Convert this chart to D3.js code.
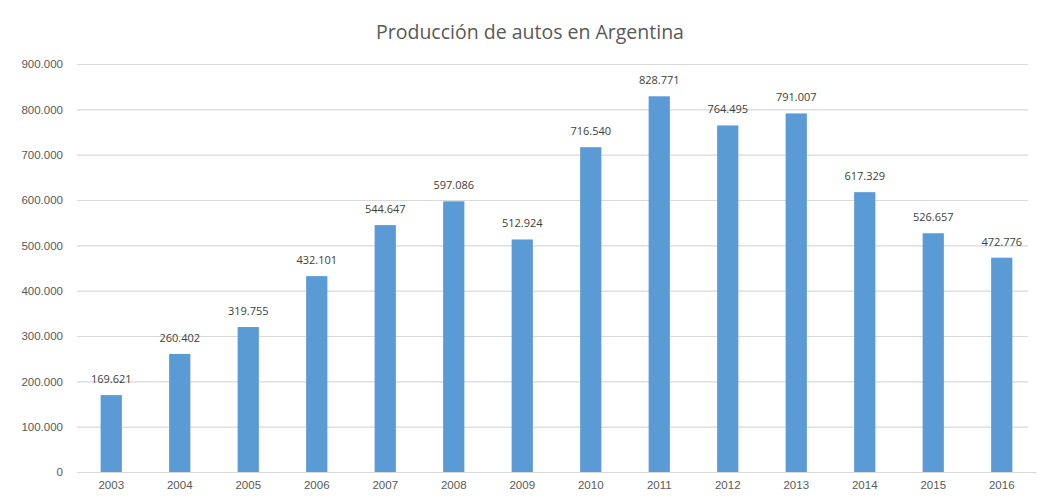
<!DOCTYPE html>
<html>
<head>
<meta charset="utf-8">
<script src="https://cdn.jsdelivr.net/npm/d3@7"></script>
<style>
  html, body { margin: 0; padding: 0; background: #fff; }
  svg { display: block; font-family: "Open Sans", "Liberation Sans", sans-serif; }
</style>
</head>
<body>
<svg id="chart" width="1038" height="499"></svg>
<script>
// Producción anual de autos en Argentina
const years = ["2003","2004","2005","2006","2007","2008","2009","2010","2011","2012","2013","2014","2015","2016"];
const production = [169621, 260402, 319755, 432101, 544647, 597086, 512924, 716540, 828771, 764495, 791007, 617329, 526657, 472776];
const yTicks = [0, 100000, 200000, 300000, 400000, 500000, 600000, 700000, 800000, 900000];
const title = "Producción de autos en Argentina";

const svg = d3.select("#chart");
const W = 1038, H = 499;
const margin = { left: 77, right: 2, top: 64, bottom: 27 };

const esAR = d3.formatLocale({ decimal: ",", thousands: ".", grouping: [3], currency: ["$", ""] });
const fmt = esAR.format(",d");

const x = d3.scaleBand().domain(years).range([margin.left, W - margin.right]).paddingInner(0.69).paddingOuter(0.345);
const y = d3.scaleLinear().domain([0, 900000]).range([H - margin.bottom, margin.top]);

// Horizontal gridlines and value axis
const yAxis = svg.append("g")
  .attr("transform", `translate(${margin.left},0)`)
  .call(d3.axisLeft(y).tickValues(yTicks).tickFormat(d => d === 0 ? "0" : fmt(d))
    .tickSize(-(W - margin.left - margin.right - 8)).tickPadding(14));
yAxis.select(".domain").remove();
yAxis.selectAll(".tick line").attr("stroke", "#d9d9d9").attr("stroke-width", 1.2);
yAxis.selectAll(".tick text").attr("fill", "#595959").attr("font-size", 11.5);

// Category axis
const xAxis = svg.append("g")
  .attr("transform", `translate(0,${H - margin.bottom})`)
  .call(d3.axisBottom(x).tickSize(0).tickPadding(9));
xAxis.select(".domain").attr("stroke", "#d9d9d9").attr("stroke-width", 1.2);
xAxis.selectAll(".tick text").attr("fill", "#595959").attr("font-size", 11.5);

// Bars
svg.append("g").selectAll("rect").data(years).join("rect")
  .attr("x", (d) => x(d))
  .attr("width", x.bandwidth())
  .attr("y", (d, i) => y(production[i]))
  .attr("height", (d, i) => y(0) - y(production[i]))
  .attr("fill", "#5b9bd5");

// Data labels
svg.append("g").selectAll("text").data(years).join("text")
  .attr("x", d => x(d) + x.bandwidth() / 2)
  .attr("y", (d, i) => y(production[i]) - 12)
  .attr("text-anchor", "middle")
  .attr("fill", "#404040")
  .attr("font-size", 11)
  .text((d, i) => fmt(production[i]));

// Title
svg.append("text")
  .attr("x", 530).attr("y", 39)
  .attr("text-anchor", "middle")
  .attr("fill", "#595959")
  .attr("font-size", 19.5)
  .text(title);
</script>
</body>
</html>
